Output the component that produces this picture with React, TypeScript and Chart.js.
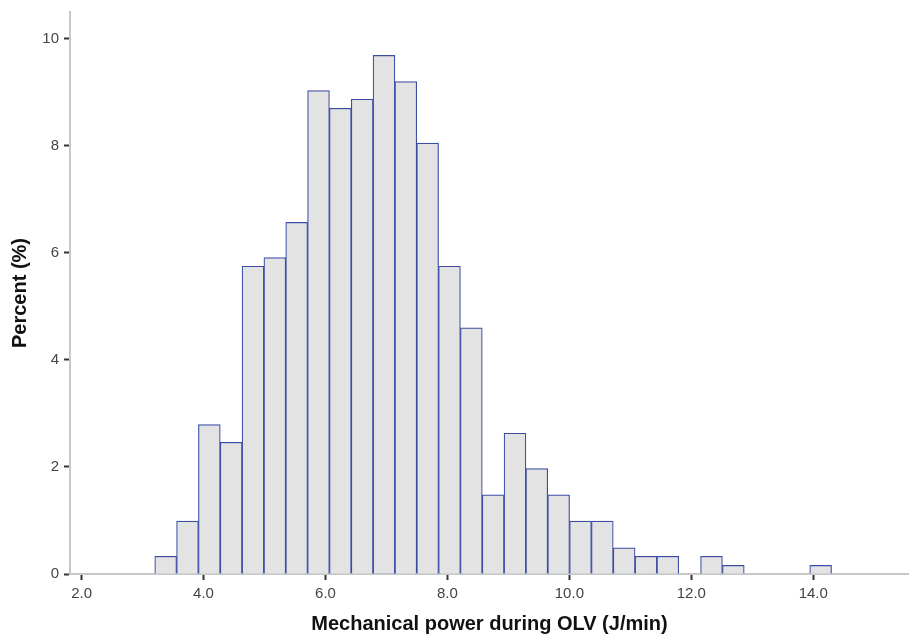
import React, { useEffect, useRef } from "react";
import { Chart, registerables } from "chart.js";

Chart.register(...registerables);

// Histogram bins (SPSS automatic binning between min and max)
const binStart = 3.2;
const binEnd = 14.3;
const percents: (number | null)[] = [
  0.33, 0.99, 2.79, 2.46, 5.75, 5.91, 6.57, 9.03, 8.7, 8.87, 9.69, 9.2, 8.05,
  5.75, 4.6, 1.48, 2.63, 1.97, 1.48, 0.99, 0.99, 0.49, 0.33, 0.33, null, 0.33,
  0.16, null, null, null, 0.16,
];
const xTickValues = [2, 4, 6, 8, 10, 12, 14];
const yTickValues = [0, 2, 4, 6, 8, 10];
const xMin = 1.81;
const xMax = 15.57;
const yMax = 10.5;
const xTitle = "Mechanical power during OLV (J/min)";
const yTitle = "Percent (%)";

export default function App() {
  const ref = useRef<HTMLCanvasElement | null>(null);
  useEffect(() => {
    document.body.style.margin = "0";
    const binWidth = (binEnd - binStart) / percents.length;
    const data = percents.map((p, i) => ({
      x: binStart + (i + 0.5) * binWidth,
      y: p,
    }));
    const chart = new Chart(ref.current!, {
      type: "bar",
      data: {
        datasets: [
          {
            data: data as any,
            backgroundColor: "#e3e3e3",
            borderColor: "#3b4ea6",
            borderWidth: 1.2,
            borderSkipped: "bottom",
            barPercentage: 1,
            categoryPercentage: 1,
          },
        ],
      },
      options: {
        animation: false,
        responsive: false,
        maintainAspectRatio: false,
        layout: { padding: { top: 12, right: 0, left: 0, bottom: 0 } },
        plugins: { legend: { display: false }, tooltip: { enabled: false } },
        scales: {
          x: {
            type: "linear",
            min: xMin,
            max: xMax,
            offset: false,
            grid: {
              display: true,
              drawOnChartArea: false,
              drawTicks: true,
              tickLength: 6,
              tickColor: "#333",
              tickWidth: 2,
              offset: false,
            },
            border: { display: true, color: "#c8c8c8", width: 2 },
            afterBuildTicks: (s: any) => {
              s.ticks = xTickValues.map((v) => ({ value: v }));
            },
            afterFit: (s: any) => {
              s.height = 62;
              s.paddingLeft = 0;
              s.paddingRight = 0;
            },
            ticks: {
              color: "#444",
              font: { family: "'Liberation Sans', Arial, sans-serif", size: 15 },
              padding: 5,
              maxRotation: 0,
              callback: (v: any) => Number(v).toFixed(1),
            },
            title: {
              display: true,
              text: xTitle,
              color: "#111",
              font: { family: "'Liberation Sans', Arial, sans-serif", size: 20, weight: "bold" },
              padding: { top: 0, bottom: 0 },
            },
          },
          y: {
            type: "linear",
            min: 0,
            max: yMax,
            grid: {
              display: true,
              drawOnChartArea: false,
              drawTicks: true,
              tickLength: 6,
              tickColor: "#333",
              tickWidth: 2,
            },
            border: { display: true, color: "#c8c8c8", width: 2 },
            afterBuildTicks: (s: any) => {
              s.ticks = yTickValues.map((v) => ({ value: v }));
            },
            afterFit: (s: any) => {
              s.width = 70;
              s.paddingTop = 0;
              s.paddingBottom = 0;
            },
            ticks: {
              color: "#444",
              font: { family: "'Liberation Sans', Arial, sans-serif", size: 15 },
              padding: 5,
            },
            title: {
              display: true,
              text: yTitle,
              color: "#111",
              font: { family: "'Liberation Sans', Arial, sans-serif", size: 20, weight: "bold" },
              padding: { top: 8, bottom: 0 },
            },
          },
        },
      },
    });
    return () => chart.destroy();
  }, []);
  return (
    <div style={{ width: 909, height: 636 }}>
      <canvas ref={ref} width={909} height={636} style={{ display: "block" }} />
    </div>
  );
}
